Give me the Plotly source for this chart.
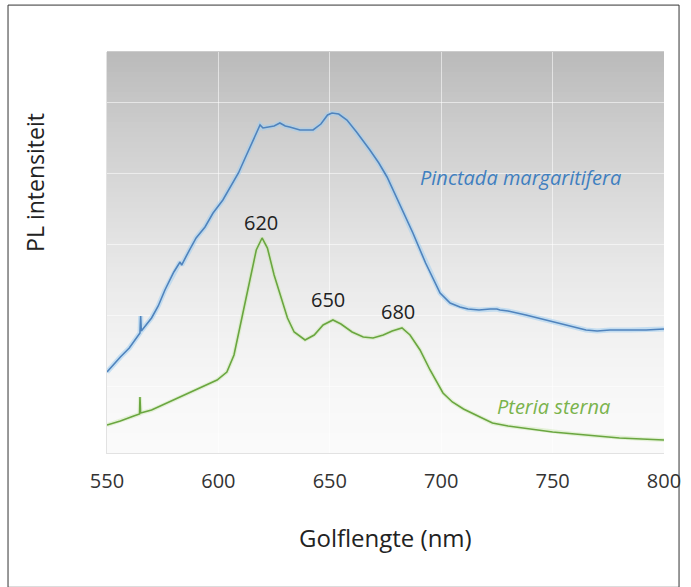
import plotly.graph_objects as go

# ---- data (intensity in arbitrary units 0-100) ----
pinctada_nm = [550, 553, 556, 560, 563.5, 564.8, 565.1, 565.4, 570, 573, 576, 580, 582.8, 583.5,
               587, 590, 594, 597.6, 602, 606.6, 609, 612, 616, 618.7, 620, 622, 625, 627.6,
               630, 632, 636.6, 640, 642.5, 646, 649, 651, 654, 657.7, 662, 668, 672, 675.7,
               681, 687.3, 693, 699.5, 704, 708.4, 712, 717, 722, 725, 726.4, 730, 738, 745,
               750.2, 757, 765, 770, 775.8, 785, 792, 800]
pinctada_py = [372, 364, 357, 348, 337, 333, 316, 331, 318, 306, 290, 272, 262, 265,
               250, 238, 227, 213, 200, 183, 173, 158, 138, 125, 128, 127, 126, 123,
               126, 127, 130, 130, 130, 124, 115, 113, 114, 120, 132, 150, 163, 177,
               203, 233, 263, 293, 303, 307, 309, 310, 309, 309, 310, 311, 315, 319,
               322, 326, 330, 331, 330, 330, 330, 329]

pteria_nm = [550, 556, 562, 564.6, 564.8, 565.1, 570, 576, 582.8, 590, 595, 599.4, 603.8, 607,
             611, 614, 617, 619.6, 622, 625, 627.6, 631, 634, 638.9, 643, 647, 651.4, 655,
             660, 665, 669.4, 674, 678, 682.4, 686, 690.5, 695, 700.8, 705, 710, 717.4, 723,
             730, 740, 750, 760, 770, 780, 790, 800]
pteria_py = [425, 421, 416, 414, 397, 413, 410, 404, 397, 390, 385, 380, 372, 355,
             313, 280, 250, 238, 248, 275, 294, 318, 332, 340, 335, 325, 320, 324,
             332, 337, 338, 335, 331, 328, 335, 350, 370, 393, 402, 409, 417, 423,
             426, 429, 432, 434, 436, 438, 439, 440]

# convert picture readings to intensity units
pinctada_int = [round((453 - p) / 4.01, 2) for p in pinctada_py]
pteria_int = [round((453 - p) / 4.01, 2) for p in pteria_py]

x_ticks = [550, 600, 650, 700, 750, 800]
peak_labels = ["620", "650", "680"]
peak_x = [619, 649.2, 680.6]
peak_y = [57.6, 38.2, 35.4]
series_names = ["Pinctada margaritifera", "Pteria sterna"]
x_title = "Golflengte (nm)"
y_title = "PL intensiteit"

FONT = "Open Sans"

fig = go.Figure()

# halo under lines
fig.add_trace(go.Scatter(x=pinctada_nm, y=pinctada_int, mode="lines",
                         line=dict(color="rgba(160,205,240,0.55)", width=5),
                         hoverinfo="skip", showlegend=False))
fig.add_trace(go.Scatter(x=pteria_nm, y=pteria_int, mode="lines",
                         line=dict(color="rgba(200,230,170,0.45)", width=4),
                         hoverinfo="skip", showlegend=False))
fig.add_trace(go.Scatter(x=pinctada_nm, y=pinctada_int, mode="lines", name=series_names[0],
                         line=dict(color="#4f83bd", width=1.6), showlegend=False))
fig.add_trace(go.Scatter(x=pteria_nm, y=pteria_int, mode="lines", name=series_names[1],
                         line=dict(color="#6aa640", width=1.6), showlegend=False))

# gradient background (dark at top, white at bottom)
shapes = []
N = 80
for i in range(N):
    f0 = i / N
    f1 = (i + 1) / N
    t = (f0 + f1) / 2  # 0 at bottom, 1 at top
    v = int(round(250 - 64 * (t ** 1.6)))
    shapes.append(dict(type="rect", xref="paper", yref="paper", x0=0, x1=1, y0=f0, y1=f1 + 0.002,
                       fillcolor=f"rgb({v},{v},{v})", line=dict(width=0), layer="below"))
# outer border
shapes.append(dict(type="rect", xref="paper", yref="paper", x0=-0.1777, x1=1.027, y0=-0.335, y1=1.117,
                   line=dict(color="#333333", width=1), fillcolor="rgba(0,0,0,0)", layer="above"))

annotations = []
for lab, px, py in zip(peak_labels, peak_x, peak_y):
    annotations.append(dict(x=px, y=py, text=lab, showarrow=False, xref="x", yref="y",
                            font=dict(family=FONT, size=20, color="#222222")))
annotations.append(dict(x=735.4, y=68.8, text="<i>" + series_names[0] + "</i>", showarrow=False,
                        font=dict(family=FONT, size=20, color="#3f7fc0")))
annotations.append(dict(x=750.6, y=11.5, text="<i>" + series_names[1] + "</i>", showarrow=False,
                        font=dict(family=FONT, size=20, color="#7ab34c")))
# axis titles
annotations.append(dict(x=0.5, y=-0.2095, xref="paper", yref="paper", text=x_title, showarrow=False,
                        xanchor="center", yanchor="middle",
                        font=dict(family=FONT, size=24, color="#222222")))
annotations.append(dict(x=-0.1293, y=0.676, xref="paper", yref="paper", text=y_title, showarrow=False,
                        textangle=-90, xanchor="center", yanchor="middle",
                        font=dict(family=FONT, size=23, color="#222222")))

fig.update_layout(
    width=691, height=587,
    margin=dict(l=107, r=27, t=52, b=134, autoexpand=False),
    paper_bgcolor="white",
    plot_bgcolor="rgba(0,0,0,0)",
    shapes=shapes,
    annotations=annotations,
    font=dict(family=FONT, color="#222222"),
    xaxis=dict(range=[550, 800], tickvals=x_ticks, ticktext=[str(v) for v in x_ticks],
               showgrid=True, gridcolor="rgba(255,255,255,0.55)", gridwidth=1,
               zeroline=False, showline=True, linecolor="#e2e2e2", ticks="",
               ticklabelstandoff=10, tickfont=dict(size=20, color="#333333")),
    yaxis=dict(range=[0, 100], showticklabels=False, showgrid=True, tick0=16.5, dtick=17.7,
               gridcolor="rgba(255,255,255,0.55)", gridwidth=1, zeroline=False,
               showline=True, linecolor="#e2e2e2", ticks=""),
)

fig.write_html("out.html", config={"displayModeBar": False},
               post_script="document.body.style.margin='0';document.body.style.overflow='hidden';")
